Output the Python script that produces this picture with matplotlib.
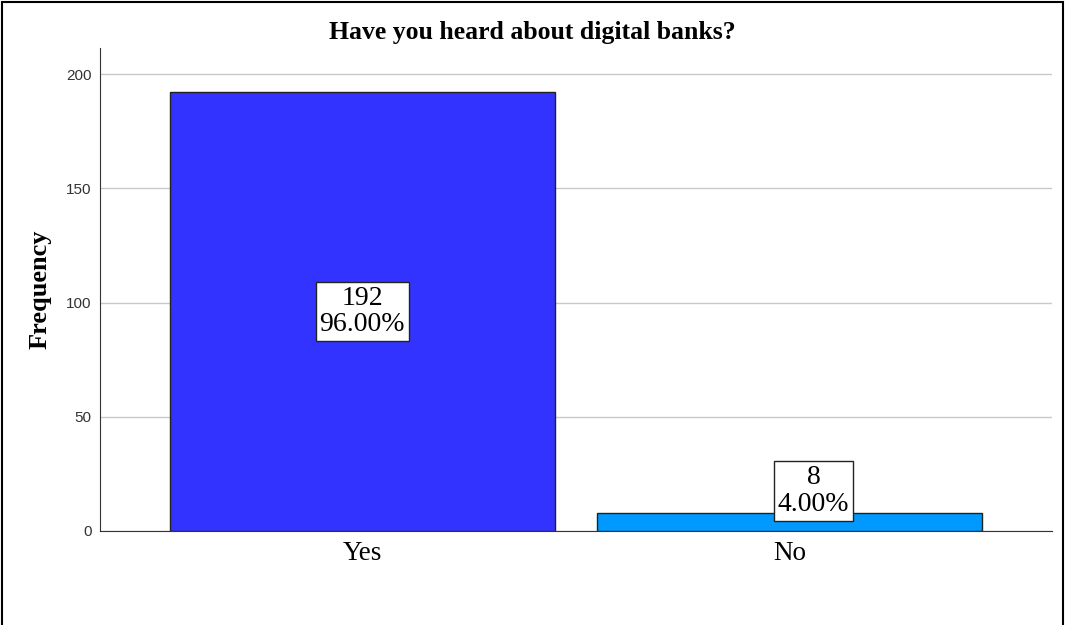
import matplotlib.pyplot as plt
from matplotlib.patches import Rectangle

categories = ['Yes', 'No']
counts = [192, 8]
percents = [96.00, 4.00]
bar_colors = ['#3333FF', '#0099FF']

fig = plt.figure(figsize=(10.65, 6.25), dpi=100)
# outer frame round the whole chart
fig.patches.append(Rectangle((0.002, -0.01), 0.996, 1.007, transform=fig.transFigure,
                             fill=False, edgecolor='black', linewidth=1.5))

ax = fig.add_axes([100 / 1065, 1 - 531 / 625, 952 / 1065, 483 / 625])
x = list(range(len(categories)))
ax.bar(x, counts, width=0.9, color=bar_colors, edgecolor='#222222', linewidth=1, zorder=3)

ax.set_xlim(-0.614, 1.614)
ax.set_ylim(0, 211.4)
ax.set_yticks([0, 50, 100, 150, 200])
ax.yaxis.grid(True, color='#c8c8c8', linewidth=1, zorder=0)
ax.set_axisbelow(True)
for s in ['top', 'right']:
    ax.spines[s].set_visible(False)
ax.spines['left'].set_color('#333333')
ax.spines['bottom'].set_color('#333333')
ax.tick_params(axis='y', length=0, pad=6, labelsize=11, labelcolor='#333333')
ax.tick_params(axis='x', length=0, pad=7, labelsize=19.5)
ax.set_xticks(x)
ax.set_xticklabels(categories, family='Liberation Serif')
for lab in ax.get_yticklabels():
    lab.set_family('Liberation Sans')

ax.set_ylabel('Frequency', family='Liberation Serif', fontweight='bold', fontsize=19, va='center')
ax.yaxis.set_label_coords(-0.063, 0.5)
fig.text(0.5, 1 - 33 / 625, 'Have you heard about digital banks?', ha='center', va='center',
         family='Liberation Serif', fontweight='bold', fontsize=18.5)

# value boxes: middle of the tall bar; the short bar's box sits above and a bit to the right
for xi, c, p in zip(x, counts, percents):
    if c > 30:
        bx, by = xi, c / 2
    else:
        bx, by = xi + 0.056, 17.5
    ax.text(bx, by, f'{c}\n{p:.2f}%', ha='center', va='center', family='Liberation Serif',
            fontsize=20, linespacing=1.08, zorder=5,
            bbox=dict(boxstyle='square,pad=0.14', facecolor='white', edgecolor='#222222', linewidth=1))

fig.savefig('out.png', dpi=100)
